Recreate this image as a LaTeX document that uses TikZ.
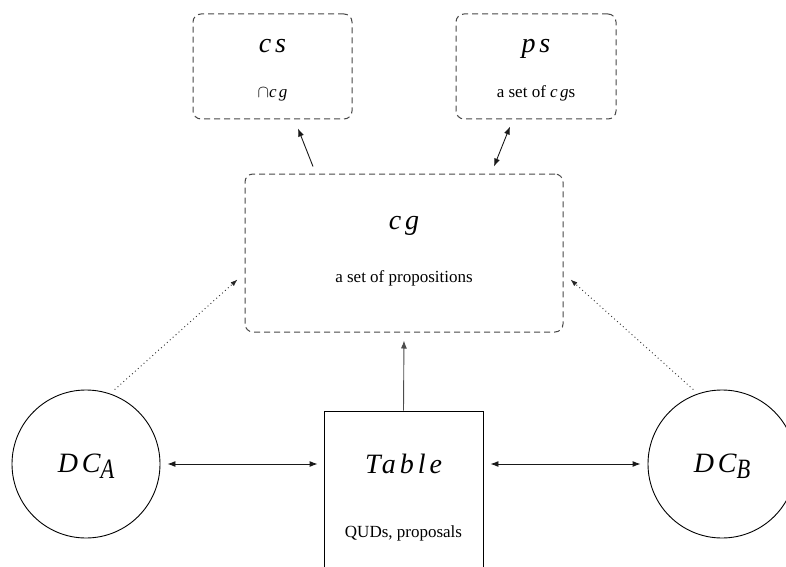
\documentclass[tikz,border=0pt]{standalone}
\usepackage{fontspec}
\setmainfont{Liberation Serif}
\newfontfamily\wideit[LetterSpace=14]{Liberation Serif}
\usetikzlibrary{arrows.meta,calc}

\newcommand{\bigit}[1]{{\fontsize{28}{30}\selectfont\wideit\itshape #1}}
\newcommand{\smallit}[1]{{\wideit\itshape #1}}

\tikzset{
  every picture/.style={x=1pt,y=1pt},
  store/.style={draw=black!72, line width=1pt, dash pattern=on 6pt off 4pt,
                rounded corners=8pt, inner sep=0pt},
  board/.style={draw=black, line width=0.9pt, inner sep=0pt},
  party/.style={draw=black, line width=0.9pt, circle, inner sep=0pt, minimum size=148pt},
  title/.style={anchor=base, inner sep=0pt},
  note/.style={anchor=base, inner sep=0pt, font=\fontsize{17}{19}\selectfont},
  link/.style={line width=0.9pt, black!90, -{Latex[length=8pt,width=6pt]}},
  hint/.style={line width=0.9pt, black!85, dash pattern=on 0.9pt off 3pt,
               -{Latex[length=7pt,width=5pt]}}
}

\begin{document}
\begin{tikzpicture}
\useasboundingbox (0,0) rectangle (786,566);
\clip (0,0) rectangle (786,566);

% stores
\node[store, minimum width=159pt, minimum height=105pt] (cs) at (272.5,499.5) {};
\node[store, minimum width=160pt, minimum height=105pt] (ps) at (536,499.5) {};
\node[store, minimum width=318pt, minimum height=158pt] (cg) at (404,313) {};

% table and discourse commitments
\node[board, minimum width=159pt, minimum height=215pt] (table) at (403.5,47.5) {};
\node[party] (dca) at (86,102) {};
\node[party] (dcb) at (722,102) {};

% labels
\node[title] (cst) at ($(cs.north)+(0,-39)$) {\bigit{cs}};
\node[note]  (csn) at ($(cs.north)+(0,-84)$) {$\cap$\smallit{cg}};
\node[title] (pst) at ($(ps.north)+(0,-39)$) {\bigit{ps}};
\node[note]  (psn) at ($(ps.north)+(0,-84)$) {a set of \smallit{cg}s};
\node[title] (cgt) at ($(cg.north)+(0,-56)$) {\bigit{cg}};
\node[note]  (cgn) at ($(cg.north)+(0,-109)$) {a set of propositions};
\node[title] (tbt) at ($(table.north)+(0,-63)$) {\bigit{Table}};
\node[note]  (tbn) at ($(table.north)+(0,-127)$) {QUDs, proposals};
\node[title] (dcat) at ($(dca.center)+(0,-8)$) {\bigit{DC\raisebox{-6pt}{\scalebox{0.8}[1]{A}}}};
\node[title] (dcbt) at ($(dcb.center)+(0,-8)$) {\bigit{DC\raisebox{-6pt}{\scalebox{0.8}[1]{B}}}};

% connectors
\draw[link, {Latex[length=8pt,width=6pt]}-{Latex[length=8pt,width=6pt]}, shorten <=7pt, shorten >=6pt]
  (dca.east) -- (dca.east -| table.west);
\draw[link, {Latex[length=8pt,width=6pt]}-{Latex[length=8pt,width=6pt]}, shorten <=7pt, shorten >=7pt]
  (dcb.east -| table.east) -- (dcb.west);
\draw[link, black!70, shorten >=8pt] (table.north) -- (cg.south);
\draw[link] ($(cg.north)+(-91,7)$) -- ($(cs.south)+(25.5,-9)$);
\draw[link, {Latex[length=8pt,width=6pt]}-{Latex[length=8pt,width=6pt]}]
  ($(cg.north)+(90,7)$) -- ($(ps.south)+(-26,-7)$);
\draw[hint, shorten <=6pt] (dca.71) -- ($(cg.south west)+(-7,53)$);
\draw[hint, shorten <=6pt] (dcb.109) -- ($(cg.south east)+(7,53)$);
\end{tikzpicture}
\end{document}
